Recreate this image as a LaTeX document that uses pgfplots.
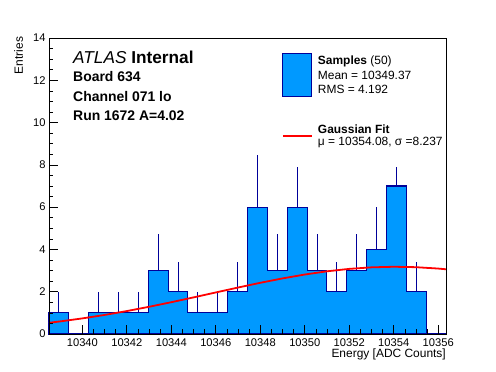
\documentclass[border=0pt]{standalone}
\usepackage{fontspec}
\setmainfont{Liberation Sans}
\usepackage{pgfplots}
\pgfplotsset{compat=1.18}
\definecolor{hfill}{RGB}{0,153,255}
\definecolor{hline}{RGB}{0,0,153}
\definecolor{fitred}{RGB}{255,0,0}
\begin{document}
\begin{tikzpicture}
\begin{axis}[
  scale only axis, width=397bp, height=296bp,
  xmin=10338.5, xmax=10356.35, ymin=0, ymax=14,
  xtick={10340,10342,10344,10346,10348,10350,10352,10354,10356},
  xticklabels={10340,10342,10344,10346,10348,10350,10352,10354,10356},
  scaled x ticks=false,
  ytick={0,2,4,6,8,10,12,14},
  minor x tick num=3, minor y tick num=3,
  tick pos=left, tick align=inside,
  major tick length=9bp, minor tick length=4.5bp,
  axis on top=true,
  axis line style={line width=0.8pt},
  every tick/.style={black, line width=0.7pt},
  tick label style={font=\fontsize{11.2}{13}\selectfont},
  xticklabel style={yshift=-1bp},
  clip=false,
  /pgf/number format/.cd, set thousands separator={}, assume math mode=true,
]
% histogram (bin left edges, last = right edge of last bin)
\addplot[const plot, fill=hfill, draw=hline, line width=1.1pt] coordinates {
(10338.5,1) (10339.3925,0) (10340.285,1) (10341.1775,1) (10342.07,1)
(10342.9625,3) (10343.855,2) (10344.7475,1) (10345.64,1) (10346.5325,2)
(10347.425,6) (10348.3175,3) (10349.21,6) (10350.1025,3) (10350.995,2)
(10351.8875,3) (10352.78,4) (10353.6725,7) (10354.565,2) (10355.4575,0)
(10356.35,0)
} \closedcycle;
% upper error bars sqrt(N)
\addplot[draw=none, mark=none,
  error bars/.cd, y dir=plus, y explicit, error mark=none,
  error bar style={draw=hline, line width=0.9pt}]
coordinates {
(10338.94625,1) +- (0,1)
(10340.73125,1) +- (0,1)
(10341.62375,1) +- (0,1)
(10342.51625,1) +- (0,1)
(10343.40875,3) +- (0,1.732)
(10344.30125,2) +- (0,1.414)
(10345.19375,1) +- (0,1)
(10346.08625,1) +- (0,1)
(10346.97875,2) +- (0,1.414)
(10347.87125,6) +- (0,2.449)
(10348.76375,3) +- (0,1.732)
(10349.65625,6) +- (0,2.449)
(10350.54875,3) +- (0,1.732)
(10351.44125,2) +- (0,1.414)
(10352.33375,3) +- (0,1.732)
(10353.22625,4) +- (0,2)
(10354.11875,7) +- (0,2.646)
(10355.01125,2) +- (0,1.414)
};
% Gaussian fit
\addplot[fitred, line width=1.8pt, mark=none] coordinates {
(10338.5,0.531) (10339,0.595) (10340,0.738) (10341,0.901) (10342,1.085)
(10343,1.287) (10344,1.504) (10345,1.732) (10346,1.965) (10347,2.198)
(10348,2.422) (10349,2.629) (10350,2.813) (10351,2.965) (10352,3.080)
(10353,3.153) (10354,3.180) (10355,3.160) (10356,3.095) (10356.35,3.061)
};
% legend box (white, no border) hides what lies beneath it
\fill[white] (axis description cs:0.57,0.565) rectangle (axis description cs:0.999,0.999);
% text
\node[anchor=base west, inner sep=0pt, font=\fontsize{17.3}{19}\selectfont] at (axis description cs:0.0605,0.9145) {\textit{ATLAS} \textbf{Internal}};
\node[anchor=base west, inner sep=0pt, font=\fontsize{14}{16}\selectfont\bfseries] at (axis description cs:0.0605,0.852) {Board 634};
\node[anchor=base west, inner sep=0pt, font=\fontsize{14}{16}\selectfont\bfseries] at (axis description cs:0.0605,0.787) {Channel 071 lo};
\node[anchor=base west, inner sep=0pt, font=\fontsize{14}{16}\selectfont\bfseries] at (axis description cs:0.0605,0.7206) {Run 1672 A=4.02};
% legend
\draw[fill=hfill, draw=hline, line width=0.9pt] (axis description cs:0.589,0.948) rectangle (axis description cs:0.662,0.802);
\draw[fitred, line width=1.8pt] (axis description cs:0.589,0.669) -- (axis description cs:0.662,0.669);
\node[anchor=base west, inner sep=0pt, font=\fontsize{12}{14}\selectfont] at (axis description cs:0.677,0.909) {\textbf{Samples} (50)};
\node[anchor=base west, inner sep=0pt, font=\fontsize{12}{14}\selectfont] at (axis description cs:0.677,0.8605) {Mean = 10349.37};
\node[anchor=base west, inner sep=0pt, font=\fontsize{12}{14}\selectfont] at (axis description cs:0.677,0.811) {RMS = 4.192};
\node[anchor=base west, inner sep=0pt, font=\fontsize{12}{14}\selectfont] at (axis description cs:0.677,0.678) {\textbf{Gaussian Fit}};
\node[anchor=base west, inner sep=0pt, font=\fontsize{12}{14}\selectfont] at (axis description cs:0.677,0.6385) {μ = 10354.08, σ =8.237};
% axis titles
\node[anchor=base east, inner sep=0pt, rotate=90, font=\fontsize{12}{14}\selectfont] at (axis description cs:-0.0655,1.004) {Entries};
\node[anchor=base east, inner sep=0pt, font=\fontsize{12}{14}\selectfont] at (axis description cs:1,-0.081) {Energy [ADC Counts]};
\end{axis}
\path (current axis.south west) ++(-49bp,-38bp) coordinate (bbA);
\path (current axis.north east) ++(50bp,38bp) coordinate (bbB);
\pgfresetboundingbox
\path[use as bounding box] (bbA) rectangle (bbB);
\end{tikzpicture}
\end{document}
